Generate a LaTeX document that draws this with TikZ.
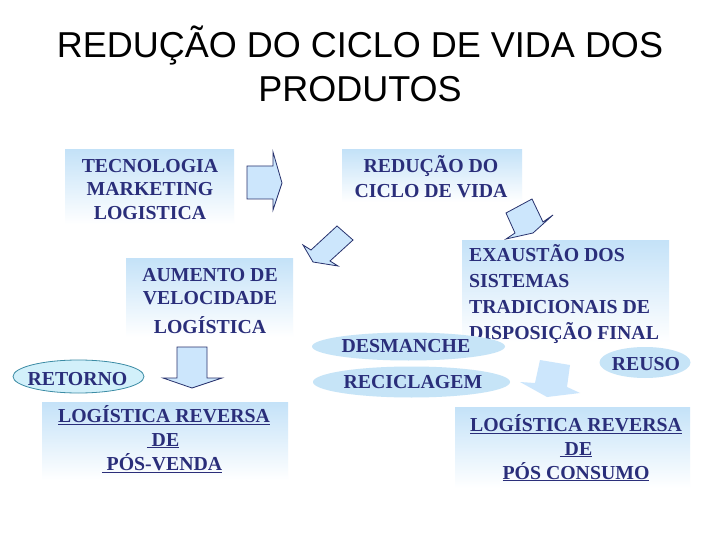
\documentclass[tikz,border=0pt]{standalone}
\usepackage{fontspec}
\setmainfont{Liberation Serif}
\newfontfamily\titlefont{Liberation Sans}
\usetikzlibrary{shapes.geometric}
\definecolor{navy}{RGB}{42,46,122}
\definecolor{boxblue}{RGB}{196,226,248}
\definecolor{arrowfill}{RGB}{204,230,252}
\definecolor{arrowline}{RGB}{40,50,110}
\definecolor{ellfill}{RGB}{198,228,247}
\definecolor{retfill}{RGB}{210,240,250}
\definecolor{retline}{RGB}{60,140,165}
\tikzset{
  gbox/.style={top color=boxblue, bottom color=white, draw=none},
  btxt/.style={font=\fontsize{19.8}{23.5}\selectfont\bfseries, text=navy, inner sep=0pt, anchor=base},
  ltxt/.style={btxt, anchor=base west},
  blockarrow/.style={fill=arrowfill, draw=arrowline, line width=0.8pt, line join=miter},
  softarrow/.style={fill=arrowfill, draw=none},
  oval/.style={ellipse, fill=ellfill, draw=none, inner sep=0pt},
  retoval/.style={ellipse, fill=retfill, draw=retline, line width=0.8pt, inner sep=0pt},
  titletxt/.style={font=\titlefont\fontsize{36}{43}\selectfont, text=black, inner sep=0pt, anchor=base}
}
\begin{document}
\begin{tikzpicture}[x=1pt,y=-1pt]
\useasboundingbox[fill=white] (0,0) rectangle (720,540);
% title
\node[titletxt] (title1) at (360,58) {REDUÇÃO DO CICLO DE VIDA DOS};
\node[titletxt] (title2) at (360,102) {PRODUTOS};
% gradient boxes
\shade[gbox] (65,150) rectangle (234,224);
\shade[gbox] (342,150) rectangle (522,202);
\shade[gbox] (126,258) rectangle (293,337);
\shade[gbox] (462,240) rectangle (669,342);
\shade[gbox] (42,402) rectangle (288,480);
\shade[gbox] (455,407) rectangle (690,488);
% box texts
\node[btxt] (b1a) at (150,173) {TECNOLOGIA};
\node[btxt] (b1b) at (150,196) {MARKETING};
\node[btxt] (b1c) at (150,220) {LOGISTICA};
\node[btxt] (b2a) at (431,173) {REDUÇÃO DO};
\node[btxt] (b2b) at (431,197) {CICLO DE VIDA};
\node[btxt] (b3a) at (210,281) {AUMENTO DE};
\node[btxt] (b3b) at (210,304) {VELOCIDADE};
\node[btxt] (b3c) at (210,333) {LOGÍSTICA};
\node[ltxt] (b4a) at (469,261) {EXAUSTÃO DOS};
\node[ltxt] (b4b) at (469,287) {SISTEMAS};
\node[ltxt] (b4c) at (469,313) {TRADICIONAIS DE};
\node[ltxt] (b4d) at (469,339) {DISPOSIÇÃO FINAL};
\node[btxt] (b5a) at (164,422) {\underline{LOGÍSTICA REVERSA}};
\node[btxt] (b5b) at (163,446) {\underline{\ DE}};
\node[btxt] (b5c) at (162,470) {\underline{\ PÓS-VENDA}};
\node[btxt] (b6a) at (576,431) {\underline{LOGÍSTICA REVERSA}};
\node[btxt] (b6b) at (576,455) {\underline{\ DE}};
\node[btxt] (b6c) at (576,479) {\underline{PÓS CONSUMO}};
% ovals
\node[oval, minimum width=193, minimum height=28] (desm) at (408.5,346.5) {};
\node[btxt] (desmt) at (406,352) {DESMANCHE};
\node[oval, minimum width=197, minimum height=31] (recic) at (411.5,382) {};
\node[btxt] (recict) at (413,388) {RECICLAGEM};
\node[oval, minimum width=91, minimum height=31] (reuso) at (645,362.5) {};
\node[btxt] (reusot) at (646,370) {REUSO};
\node[retoval, minimum width=131, minimum height=33] (ret) at (78.5,376.5) {};
\node[btxt] (rett) at (77.5,385) {RETORNO};
% block arrows
\draw[blockarrow] (247,166) -- (273,166) -- (273,152) -- (282,183) -- (273,210) -- (273,199) -- (247,199) -- cycle;
\draw[blockarrow] (506,213) -- (532,199) -- (543,222) -- (553,215) -- (533,233) -- (506,239) -- (515,233) -- cycle;
\draw[blockarrow] (337,226) -- (353,240) -- (330,261) -- (338,266) -- (313,262) -- (303,245) -- (311,250) -- cycle;
\draw[blockarrow] (177,347) -- (207,347) -- (207,378) -- (222,378) -- (192,388) -- (163,378) -- (177,378) -- cycle;
\fill[softarrow] (540,360) -- (570,365) -- (567,387) -- (580,393) -- (547,397) -- (520,382) -- (535,383) -- cycle;
\end{tikzpicture}
\end{document}
